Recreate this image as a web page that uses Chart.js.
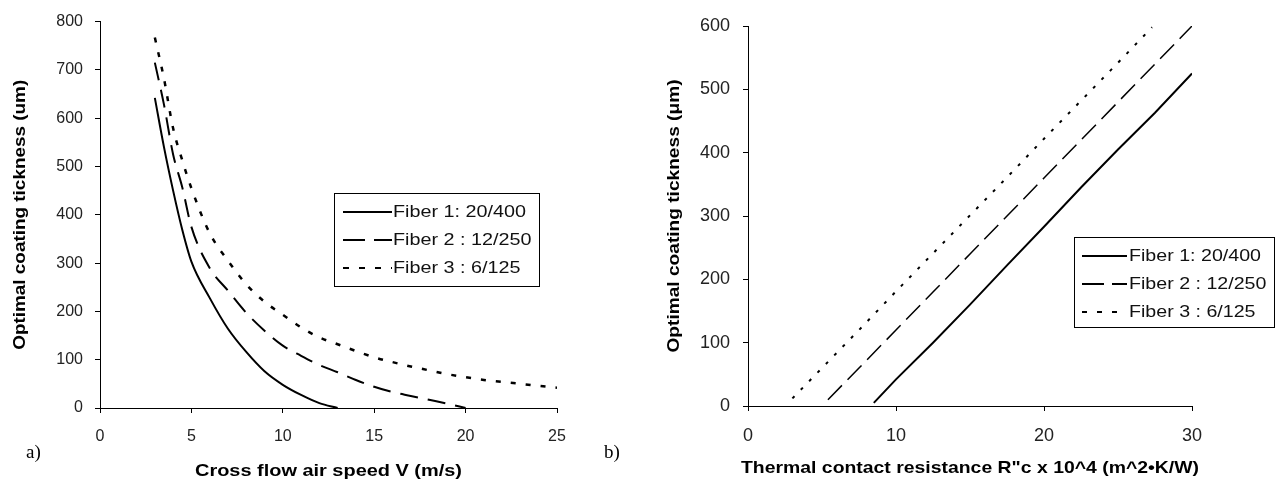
<!DOCTYPE html>
<html>
<head>
<meta charset="utf-8">
<script src="https://cdn.jsdelivr.net/npm/chart.js@4.4.0/dist/chart.umd.min.js"></script>
<style>
  body { margin: 0; background: #fff; }
  #wrap { position: relative; width: 1275px; height: 487px; overflow: hidden; }
  canvas { position: absolute; top: 0; }
  .tag { position: absolute; font-family: "Liberation Serif", "Times New Roman", serif; font-size: 19px; color: #000; }
</style>
</head>
<body>
<div id="wrap">
  <canvas id="chart_a" width="640" height="487" style="left:0"></canvas>
  <canvas id="chart_b" width="635" height="487" style="left:640px"></canvas>
  <div class="tag" style="left:26px; top:441px">a)</div>
  <div class="tag" style="left:604px; top:441px">b)</div>
</div>
<script>
// a) thickness vs cross flow air speed
var speed_1 = [3, 3.5, 4, 4.5, 5, 6, 7, 8, 9, 10, 11, 12, 13];
var fiber1_a = [642, 540, 450, 369, 303, 228, 164, 116, 76, 48, 27, 10, 0];
var speed_2 = [3, 3.5, 4, 4.5, 5, 6, 7, 8, 9, 10, 11, 12, 13, 14, 15, 16, 17, 18, 19, 20];
var fiber2_a = [715, 628, 525, 457, 375, 290, 243, 197, 160, 129, 108, 89, 74, 58, 44, 33, 25, 17, 9, 0];
var speed_3 = [3, 3.5, 4, 4.5, 5, 6, 7, 8, 9, 10, 11, 12, 13, 14, 15, 16, 17, 18, 19, 20, 21, 22, 23, 24, 25];
var fiber3_a = [767, 682, 579, 513, 455, 362, 305, 256, 220, 193, 167, 146, 132, 118, 105, 95, 86, 78, 70, 64, 58, 54, 50, 46, 42];

// b) thickness vs thermal contact resistance
var res_1 = [8.5, 10, 12.5, 15, 17.5, 20, 22.5, 25, 27.5, 30];
var fiber1_b = [5, 42, 100, 160, 222, 283, 345, 405, 463, 525];
var res_2 = [5.4, 7.5, 10, 12.5, 15, 17.5, 20, 22.5, 25, 27.5, 30];
var fiber2_b = [10, 60, 120, 180, 240, 300, 360, 420, 480, 540, 600];
var res_3 = [3, 5, 7.5, 10, 12.5, 15, 17.5, 20, 22.5, 25, 27.3];
var fiber3_b = [12, 60, 120, 181, 241, 301, 361, 422, 482, 542, 598];

var fiber_labels = ["Fiber 1: 20/400", "Fiber 2 : 12/250", "Fiber 3 : 6/125"];
var ticks_a_x = [0, 5, 10, 15, 20, 25];
var ticks_a_y = [0, 100, 200, 300, 400, 500, 600, 700, 800];
var ticks_b_x = [0, 10, 20, 30];
var ticks_b_y = [0, 100, 200, 300, 400, 500, 600];

var FONT = '"Liberation Sans", Arial, sans-serif';

function pts(xs, ys){
	var out = [];
	for (var i = 0; i < xs.length; i++) out.push({x: xs[i], y: ys[i]});
	return out;
}

// text drawn wider than the font (the original figure was stretched)
function wideText(ctx, text, x, y, width, rot){
	var w = ctx.measureText(text).width;
	ctx.save();
	ctx.translate(x, y);
	if (rot) ctx.rotate(rot);
	ctx.scale(width / w, 1);
	ctx.fillText(text, 0, 0);
	ctx.restore();
}

// legend box + axis titles
var extras = {
	id: 'extras',
	afterDraw: function(chart, args, o){
		var ctx = chart.ctx;
		var area = chart.chartArea;
		var lg = o.legend;
		ctx.save();
		ctx.strokeStyle = '#000';
		ctx.lineWidth = 1;
		ctx.strokeRect(lg.x + 0.5, lg.y + 0.5, lg.w, lg.h);
		ctx.font = lg.fontSize + 'px ' + FONT;
		var sx = lg.textW / ctx.measureText(fiber_labels[0]).width;
		ctx.fillStyle = '#111';
		ctx.textBaseline = 'middle';
		ctx.textAlign = 'left';
		for (var i = 0; i < fiber_labels.length; i++) {
			var ry = lg.y + lg.first + i * lg.row;
			ctx.beginPath();
			ctx.lineWidth = 2;
			ctx.setLineDash(lg.dashes[i]);
			ctx.moveTo(lg.x + lg.lineX, ry);
			ctx.lineTo(lg.x + lg.lineX + lg.lineLen, ry);
			ctx.stroke();
			ctx.setLineDash([]);
			var w = ctx.measureText(fiber_labels[i]).width * sx;
			wideText(ctx, fiber_labels[i], lg.x + lg.textX, ry, w, 0);
		}

		ctx.fillStyle = '#000';
		ctx.textAlign = 'center';
		ctx.font = 'bold ' + o.titleSize + 'px ' + FONT;
		wideText(ctx, o.xTitle, (area.left + area.right) / 2, o.xTitleY, o.xTitleW, 0);
		wideText(ctx, o.yTitle, o.yTitleX, (area.top + area.bottom) / 2, o.yTitleW, -Math.PI / 2);
		ctx.restore();
	}
};

function axis(min, max, tickVals, fontSize, sizeFn, tickPad){
	return {
		type: 'linear',
		min: min,
		max: max,
		afterBuildTicks: function(s){ s.ticks = tickVals.map(function(v){ return {value: v}; }); },
		grid: { display: true, drawOnChartArea: false, drawTicks: true, tickLength: 5, color: '#000', lineWidth: 1 },
		border: { display: true, color: '#000', width: 1 },
		ticks: { color: '#222', padding: tickPad, font: { family: FONT, size: fontSize } },
		title: { display: false },
		afterFit: sizeFn
	};
}

Chart.defaults.animation = false;

new Chart(document.getElementById('chart_a'), {
	type: 'line',
	data: {
		datasets: [
			{ label: fiber_labels[0], data: pts(speed_1, fiber1_a), borderColor: '#000', borderWidth: 2, pointRadius: 0, cubicInterpolationMode: 'monotone', fill: false },
			{ label: fiber_labels[1], data: pts(speed_2, fiber2_a), borderColor: '#000', borderWidth: 2, borderDash: [18, 10], pointRadius: 0, cubicInterpolationMode: 'monotone', fill: false },
			{ label: fiber_labels[2], data: pts(speed_3, fiber3_a), borderColor: '#000', borderWidth: 2.5, borderDash: [5, 10], pointRadius: 0, cubicInterpolationMode: 'monotone', fill: false }
		]
	},
	options: {
		responsive: false,
		devicePixelRatio: 1,
		layout: { padding: { top: 16, right: 83, bottom: 0, left: 0 } },
		scales: {
			x: axis(0, 25, ticks_a_x, 16, function(s){ s.height = 79; }, 14),
			y: axis(0, 800, ticks_a_y, 16, function(s){ s.width = 100; }, 12)
		},
		plugins: {
			legend: { display: false },
			tooltip: { enabled: false },
			extras: {
				legend: { x: 334, y: 193, w: 205, h: 93, first: 19, row: 28, lineX: 9, lineLen: 49, textX: 59, fontSize: 17, textW: 133,
					dashes: [[], [22, 9], [6, 10]] },
				titleSize: 17,
				xTitle: 'Cross flow air speed V (m/s)', xTitleY: 471, xTitleW: 267,
				yTitle: 'Optimal coating tickness (um)', yTitleX: 20, yTitleW: 270
			}
		}
	},
	plugins: [extras]
});

new Chart(document.getElementById('chart_b'), {
	type: 'line',
	data: {
		datasets: [
			{ label: fiber_labels[0], data: pts(res_1, fiber1_b), borderColor: '#000', borderWidth: 2, pointRadius: 0, tension: 0, fill: false },
			{ label: fiber_labels[1], data: pts(res_2, fiber2_b), borderColor: '#000', borderWidth: 1.5, borderDash: [20, 8], pointRadius: 0, tension: 0, fill: false },
			{ label: fiber_labels[2], data: pts(res_3, fiber3_b), borderColor: '#000', borderWidth: 2, borderDash: [3, 9], pointRadius: 0, tension: 0, fill: false }
		]
	},
	options: {
		responsive: false,
		devicePixelRatio: 1,
		layout: { padding: { top: 26, right: 83, bottom: 0, left: 0 } },
		scales: {
			x: axis(0, 30, ticks_b_x, 18, function(s){ s.height = 81; }, 14),
			y: axis(0, 600, ticks_b_y, 18, function(s){ s.width = 108; }, 13)
		},
		plugins: {
			legend: { display: false },
			tooltip: { enabled: false },
			extras: {
				legend: { x: 434, y: 237, w: 200, h: 90, first: 19, row: 28, lineX: 8, lineLen: 45, textX: 55, fontSize: 17, textW: 132,
					dashes: [[], [22, 8], [5, 10]] },
				titleSize: 17,
				xTitle: 'Thermal contact resistance R"c x 10^4 (m^2\u2022K/W)', xTitleY: 468, xTitleW: 458,
				yTitle: 'Optimal coating tickness (\u03bcm)', yTitleX: 34, yTitleW: 273
			}
		}
	},
	plugins: [extras]
});
</script>
</body>
</html>
